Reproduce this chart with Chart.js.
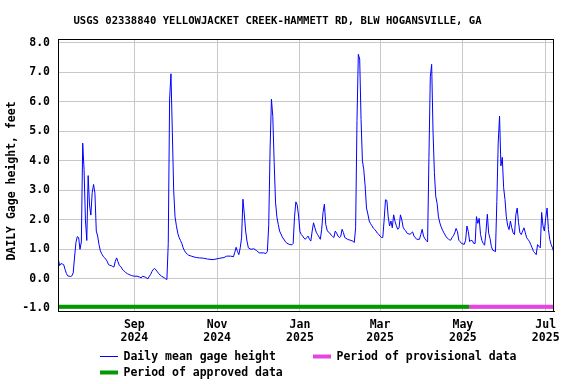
<!DOCTYPE html>
<html>
<head>
<meta charset="utf-8">
<script src="https://cdn.jsdelivr.net/npm/chart.js@4/dist/chart.umd.min.js"></script>
<style>
  html, body { margin: 0; padding: 0; background: #fff; }
</style>
</head>
<body>
<canvas id="gageChart" width="576" height="384"></canvas>
<script>
// days counted from Jul 1 2024
const days = [
  6, 7, 8, 9, 10, 11, 12, 13, 14, 15, 16, 17, 18, 19, 20, 21, 22, 23, 24, 25,
  26, 27, 28, 29, 30, 31, 32, 33, 34, 35, 36, 37, 38, 39, 40, 41, 42, 43, 44, 45,
  46, 47, 48, 49, 50, 51, 52, 53, 54, 55, 56, 57, 58, 60, 62, 64, 66, 67, 68, 70,
  72, 73, 74, 75, 76, 77, 78, 79, 80, 81, 82, 84, 85, 86, 87, 88, 89, 90, 91, 92,
  93, 94, 95, 96, 97, 98, 99, 100, 101, 102, 104, 106, 108, 110, 113, 116, 120, 123, 125, 128,
  130, 133, 135, 136, 137, 138, 139, 140, 141, 142, 143, 144, 145, 146, 148, 150, 152, 154, 157, 159,
  160, 161, 162, 163, 164, 165, 166, 167, 168, 169, 170, 171, 172, 173, 174, 176, 178, 179, 180, 181,
  182, 183, 184, 185, 186, 187, 188, 189, 190, 191, 192, 193, 194, 195, 196, 197, 198, 199, 200, 201,
  202, 203, 204, 205, 206, 207, 208, 209, 210, 211, 212, 213, 214, 215, 216, 217, 219, 221, 223, 224,
  225, 226, 227, 228, 229, 230, 231, 232, 233, 234, 235, 236, 237, 238, 239, 240, 241, 242, 243, 244,
  245, 246, 247, 248, 249, 250, 251, 252, 253, 254, 255, 256, 257, 258, 259, 260, 261, 262, 263, 265,
  267, 268, 270, 272, 273, 274, 275, 276, 277, 278, 279, 280, 281, 282, 283, 284, 285, 286, 287, 288,
  289, 290, 291, 292, 293, 294, 295, 296, 297, 298, 299, 300, 301, 302, 303, 305, 306, 307, 308, 309,
  310, 311, 312, 313, 314, 315, 316, 317, 318, 319, 320, 321, 322, 323, 324, 325, 326, 327, 328, 329,
  330, 331, 332, 333, 334, 335, 336, 337, 338, 339, 340, 341, 342, 343, 344, 345, 346, 347, 348, 349,
  350, 351, 352, 353, 354, 355, 356, 357, 358, 359, 360, 361, 362, 363, 364, 365, 366, 367, 368, 369,
  370, 371
];

const gageFeet = [
  0.67, 0.45, 0.52, 0.5, 0.48, 0.32, 0.18, 0.1, 0.09, 0.08, 0.1, 0.2, 0.74, 1.23, 1.43, 1.4, 1.0, 1.25, 4.6, 3.7,
  2.0, 1.3, 3.5, 2.5, 2.16, 2.93, 3.2, 2.9, 1.62, 1.45, 1.16, 0.95, 0.85, 0.77, 0.72, 0.66, 0.6, 0.48, 0.46, 0.45,
  0.42, 0.4, 0.6, 0.71, 0.58, 0.45, 0.42, 0.34, 0.28, 0.25, 0.2, 0.17, 0.15, 0.11, 0.09, 0.09, 0.06, 0.03, 0.09, 0.06,
  0.0, 0.08, 0.15, 0.25, 0.32, 0.35, 0.3, 0.24, 0.18, 0.13, 0.09, 0.04, 0.0, -0.02, 1.2, 6.1, 6.95, 5.0, 3.0, 2.1,
  1.8, 1.55, 1.4, 1.3, 1.2, 1.05, 0.95, 0.88, 0.84, 0.8, 0.77, 0.74, 0.72, 0.71, 0.7, 0.67, 0.65, 0.68, 0.7, 0.72,
  0.77, 0.77, 0.75, 0.9, 1.07, 0.93, 0.82, 1.05, 1.39, 2.7, 2.2, 1.62, 1.28, 1.05, 1.0, 1.02, 0.96, 0.88, 0.88, 0.86,
  0.93, 1.82, 4.4, 6.09, 5.5, 3.95, 2.6, 2.1, 1.85, 1.62, 1.52, 1.42, 1.35, 1.28, 1.22, 1.17, 1.15, 1.2, 2.1, 2.61,
  2.5, 2.13, 1.6, 1.5, 1.45, 1.38, 1.34, 1.4, 1.45, 1.34, 1.28, 1.62, 1.9, 1.73, 1.58, 1.5, 1.42, 1.34, 1.68, 2.25,
  2.53, 1.85, 1.65, 1.58, 1.55, 1.48, 1.44, 1.4, 1.62, 1.55, 1.45, 1.4, 1.43, 1.68, 1.57, 1.4, 1.34, 1.31, 1.28, 1.23,
  1.73, 5.37, 7.61, 7.45, 5.4, 4.0, 3.7, 3.15, 2.4, 2.2, 1.96, 1.87, 1.8, 1.72, 1.68, 1.62, 1.55, 1.51, 1.45, 1.4,
  1.4, 2.0, 2.68, 2.66, 2.1, 1.79, 1.96, 1.73, 2.17, 1.95, 1.8, 1.68, 1.73, 2.17, 2.0, 1.75, 1.66, 1.62, 1.54, 1.51,
  1.59, 1.45, 1.34, 1.34, 1.5, 1.68, 1.45, 1.36, 1.3, 1.25, 4.12, 6.85, 7.27, 5.0, 3.6, 2.8, 2.56, 2.1, 1.9, 1.76,
  1.65, 1.56, 1.48, 1.4, 1.37, 1.32, 1.31, 1.4, 1.46, 1.56, 1.71, 1.6, 1.31, 1.26, 1.2, 1.17, 1.31, 1.79, 1.6, 1.26,
  1.31, 1.29, 1.2, 1.2, 2.11, 1.88, 2.05, 1.5, 1.3, 1.2, 1.14, 1.6, 2.19, 1.54, 1.37, 1.09, 0.97, 0.95, 0.92, 2.62,
  4.6, 5.52, 3.83, 4.12, 3.09, 2.69, 2.1, 1.8, 1.67, 1.96, 1.73, 1.56, 1.5, 2.18, 2.4, 1.9, 1.56, 1.5, 1.62, 1.73,
  1.56, 1.39, 1.33, 1.27, 1.16, 1.05, 0.93, 0.88, 0.82, 1.16, 1.1, 1.05, 2.25, 1.79, 1.62, 2.07, 2.4, 1.67, 1.33, 1.16,
  1.05, 0.9
];

// approved / provisional periods (day range)
const approvedDays = [5.8, 308.5];
const provisionalDays = [308.5, 371.1];
const periodLevel = -0.95;

const tickDays = [62, 123, 184, 243, 304, 365];
const tickMonths = ["Sep", "Nov", "Jan", "Mar", "May", "Jul"];
const tickYears = ["2024", "2024", "2025", "2025", "2025", "2025"];
const yTicks = [-1, 0, 1, 2, 3, 4, 5, 6, 7, 8];

const mono = "'DejaVu Sans Mono', 'Liberation Mono', monospace";
const labelFont = { family: mono, size: 11.5, weight: "bold", lineHeight: 1.13 };

// frame, title, y title and legend are drawn by hand
const extrasPlugin = {
  id: "extras",
  afterDraw(chart) {
    const ctx = chart.ctx;
    const a = chart.chartArea;
    ctx.save();
    ctx.strokeStyle = "#000";
    ctx.lineWidth = 1;
    ctx.strokeRect(Math.round(a.left) + 0.5, Math.round(a.top) + 0.5,
      Math.round(a.right - a.left) - 1, Math.round(a.bottom - a.top));

    ctx.fillStyle = "#000";
    ctx.textBaseline = "middle";
    ctx.textAlign = "center";
    ctx.font = "bold 10.6px " + mono;
    ctx.fillText("USGS 02338840 YELLOWJACKET CREEK-HAMMETT RD, BLW HOGANSVILLE, GA", 277.5, 21);

    ctx.save();
    ctx.translate(12.5, 181);
    ctx.rotate(-Math.PI / 2);
    ctx.font = "bold 11.5px " + mono;
    ctx.fillText("DAILY Gage height, feet", 0, 0);
    ctx.restore();

    // legend
    ctx.textAlign = "left";
    ctx.font = "bold 11.5px " + mono;
    const rows = [
      { x: 100, y: 356.5, color: "#0000ff", w: 1, text: "Daily mean gage height" },
      { x: 313, y: 356.5, color: "#e645e1", w: 4, text: "Period of provisional data" },
      { x: 100, y: 372.5, color: "#009900", w: 4, text: "Period of approved data" }
    ];
    rows.forEach((r) => {
      ctx.strokeStyle = r.color;
      ctx.lineWidth = r.w;
      ctx.beginPath();
      ctx.moveTo(r.x, r.y);
      ctx.lineTo(r.x + 18, r.y);
      ctx.stroke();
      ctx.fillText(r.text, r.x + 23.5, r.y + 0.5);
    });
    ctx.restore();
  }
};

const gageConfig = {
  type: "line",
  data: {
    datasets: [
      {
        label: "Daily mean gage height",
        data: days.map((d, i) => ({ x: d, y: gageFeet[i] })),
        borderColor: "#0000ff",
        borderWidth: 1,
        pointRadius: 0,
        tension: 0
      },
      {
        label: "Period of provisional data",
        data: provisionalDays.map((d) => ({ x: d, y: periodLevel })),
        borderColor: "#e645e1",
        borderWidth: 4,
        borderCapStyle: "butt",
        pointRadius: 0
      },
      {
        label: "Period of approved data",
        data: approvedDays.map((d) => ({ x: d, y: periodLevel })),
        borderColor: "#009900",
        borderWidth: 4,
        borderCapStyle: "butt",
        pointRadius: 0
      }
    ]
  },
  options: {
    responsive: false,
    animation: false,
    devicePixelRatio: 1,
    layout: { padding: { top: 39, right: 22, left: 0, bottom: 0 } },
    plugins: {
      legend: { display: false },
      title: { display: false },
      tooltip: { enabled: false }
    },
    scales: {
      x: {
        type: "linear",
        min: 5.8,
        max: 371.1,
        afterBuildTicks: (s) => { s.ticks = tickDays.map((v) => ({ value: v })); },
        afterFit: (s) => { s.height = 73; },
        ticks: {
          autoSkip: false,
          maxRotation: 0,
          padding: 8,
          color: "#000",
          font: labelFont,
          callback: (v, i) => [tickMonths[i], tickYears[i]]
        },
        grid: { color: "#c8c8c8", drawTicks: false },
        border: { color: "#000" }
      },
      y: {
        type: "linear",
        min: -1.09,
        max: 8.13,
        afterBuildTicks: (s) => { s.ticks = yTicks.map((v) => ({ value: v })); },
        afterFit: (s) => { s.width = 58; },
        ticks: {
          padding: 8,
          color: "#000",
          font: labelFont,
          callback: (v) => v.toFixed(1)
        },
        grid: { color: "#c8c8c8", drawTicks: false },
        border: { color: "#000" }
      }
    }
  },
  plugins: [extrasPlugin]
};

new Chart(document.getElementById("gageChart"), gageConfig);
</script>
</body>
</html>
